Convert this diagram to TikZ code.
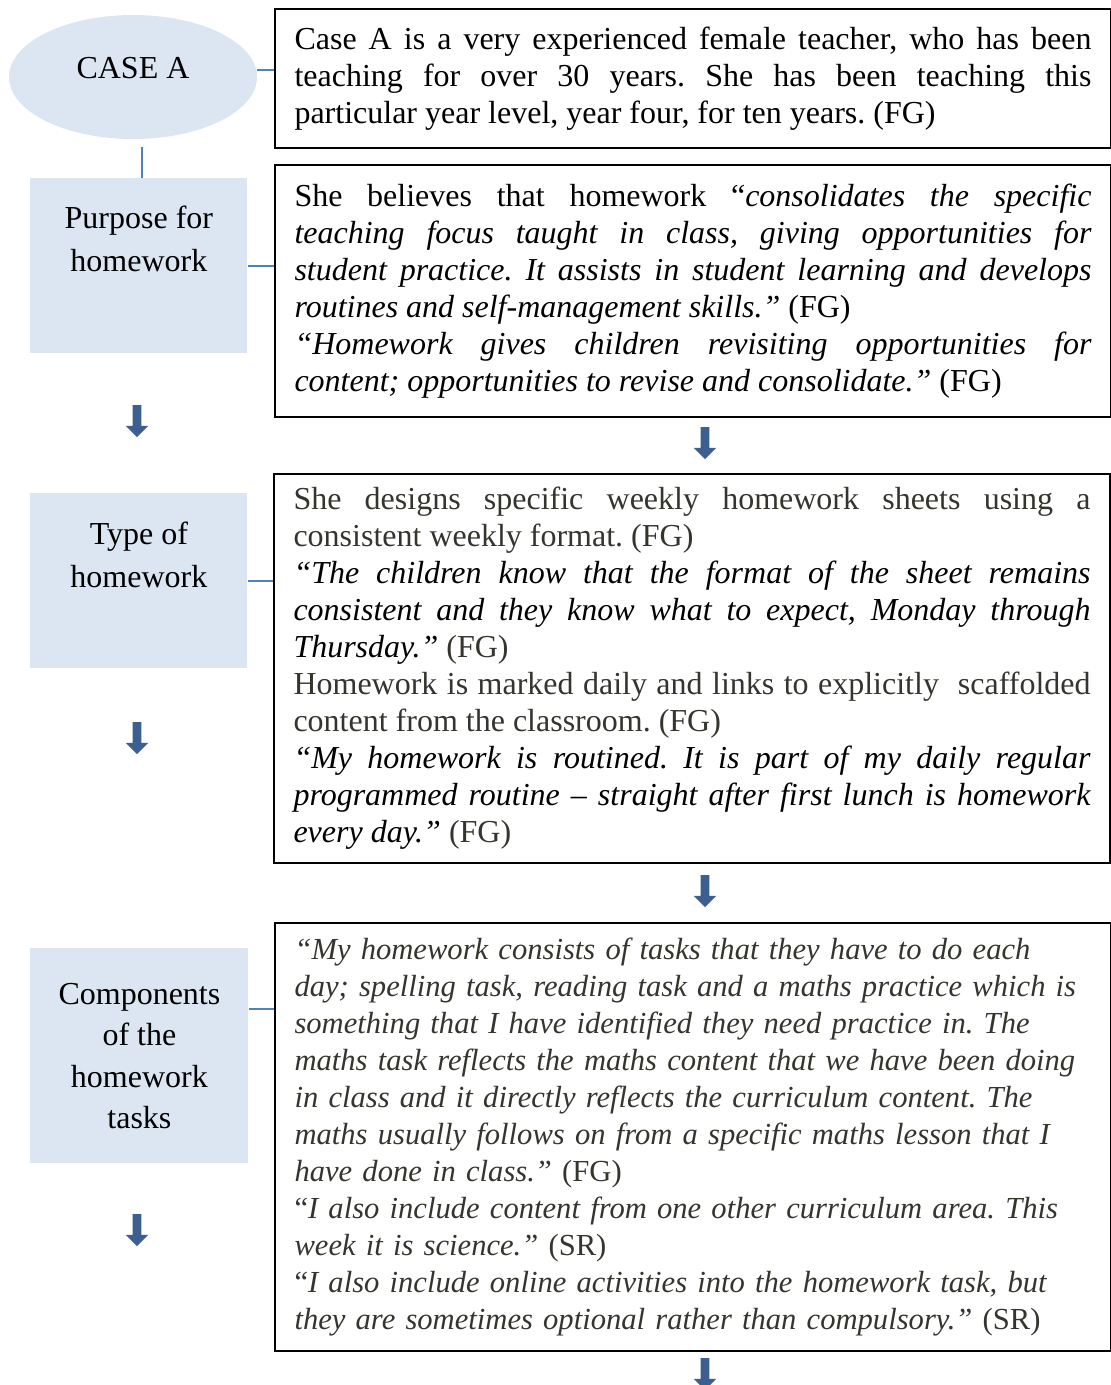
\documentclass[tikz,border=0pt]{standalone}
\usepackage{fontspec}
\setmainfont{Liberation Serif}
\usetikzlibrary{shapes.geometric,shapes.arrows,positioning}
\definecolor{tagblue}{HTML}{DCE6F2}
\definecolor{linkblue}{HTML}{4F81BD}
\definecolor{arrowblue}{HTML}{3C5F8F}
\definecolor{notegray}{HTML}{35342D}
\setlength{\parindent}{0pt}
\frenchspacing

\tikzset{
  tag/.style={fill=tagblue, anchor=north west, align=center, inner sep=0pt,
    font=\fontsize{16}{21.5}\selectfont, minimum width=108.5pt, minimum height=87.5pt},
  textbox/.style={draw, line width=1pt, anchor=north west, align=justify, text width=398.5pt,
    inner xsep=9.75pt, inner ysep=0pt, font=\fontsize{16}{18.5}\selectfont},
  link/.style={linkblue, line width=1pt},
  downarrow/.style={single arrow, shape border rotate=270, fill=arrowblue, inner sep=2pt,
    minimum height=16pt, single arrow head extend=3.5pt}
}

\begin{document}
\begin{tikzpicture}[x=0.5pt,y=-0.5pt]
  \useasboundingbox (0,0) rectangle (1111,1385);

  % left column
  \node[ellipse, fill=tagblue, minimum width=124pt, minimum height=62pt, text depth=9pt,
    font=\fontsize{16}{18.5}\selectfont] (caseA) at (133,77) {CASE A};
  \node[tag, text depth=27pt] (purpose) at (30,178) {Purpose for\\homework};
  \node[tag, text depth=26pt] (type) at (30,493) {Type of\\homework};
  \node[tag, minimum width=109pt, minimum height=107.5pt,
    font=\fontsize{16}{20.75}\selectfont] (parts) at (30,948) {Components\\of the\\homework\\tasks};

  % right column
  \node[textbox, minimum height=69.5pt] (case) at (274,8)
    {Case A is a very experienced female teacher, who has been\linebreak
     teaching for over 30 years. She has been teaching this\linebreak
     particular year level, year four, for ten years. (FG)};

  \node[textbox, minimum height=126pt] (why) at (274,164)
    {She believes that homework ``\textit{consolidates the specific\linebreak
     teaching focus taught in class, giving opportunities for\linebreak
     student practice. It assists in student learning and develops\linebreak
     routines and self-management skills.''} (FG)\\
     \textit{``Homework gives children revisiting opportunities for\linebreak
     content; opportunities to revise and consolidate.''} (FG)};

  \node[textbox, minimum height=194.5pt] (sheets) at (273,473)
    {{\color{notegray}She designs specific weekly homework sheets using a\linebreak
     consistent weekly format. (FG)}\\
     \textit{``The children know that the format of the sheet remains\linebreak
     consistent and they know what to expect, Monday through\linebreak
     Thursday.''} {\color{notegray}(FG)}\\
     {\color{notegray}Homework is marked daily and links to explicitly\ \ scaffolded\linebreak
     content from the classroom. (FG)}\\
     \textit{``My homework is routined. It is part of my daily regular\linebreak
     programmed routine -- straight after first lunch is homework\linebreak
     every day.''} {\color{notegray}(FG)}};

  \node[textbox, minimum height=214pt, align=left, text=notegray,
    font=\fontsize{15.3}{18.5}\selectfont] (tasks) at (274,922)
    {\textit{``My homework consists of tasks that they have to do each\\
     day; spelling task, reading task and a maths practice which is\\
     something that I have identified they need practice in. The\\
     maths task reflects the maths content that we have been doing\\
     in class and it directly reflects the curriculum content. The\\
     maths usually follows on from a specific maths lesson that I\\
     have done in class.''} (FG)\\
     ``\textit{I also include content from one other curriculum area. This\\
     week it is science.''} (SR)\\
     ``\textit{I also include online activities into the homework task, but\\
     they are sometimes optional rather than compulsory.''} (SR)};

  % connectors
  \coordinate (caseR) at ([yshift=3.5pt]caseA.east);
  \draw[link] (caseR) -- (caseR -| case.west);
  \coordinate (purposeTop) at ([xshift=1.75pt]purpose.north);
  \draw[link] (purposeTop) -- ++(0,-31);
  \draw[link] (purpose.east) -- (purpose.east -| why.west);
  \draw[link] (type.east) -- (type.east -| sheets.west);
  \coordinate (partsR) at ([yshift=23.5pt]parts.east);
  \draw[link] (partsR) -- (partsR -| tasks.west);

  % block arrows
  \node[downarrow] (downA) at (137,419) {};
  \node[downarrow] (downB) at (137,736) {};
  \node[downarrow] (downC) at (137,1228) {};
  \node[downarrow] (nextA) at (705,441) {};
  \node[downarrow] (nextB) at (705,889) {};
  \node[downarrow] (nextC) at (705,1372) {};
\end{tikzpicture}
\end{document}
